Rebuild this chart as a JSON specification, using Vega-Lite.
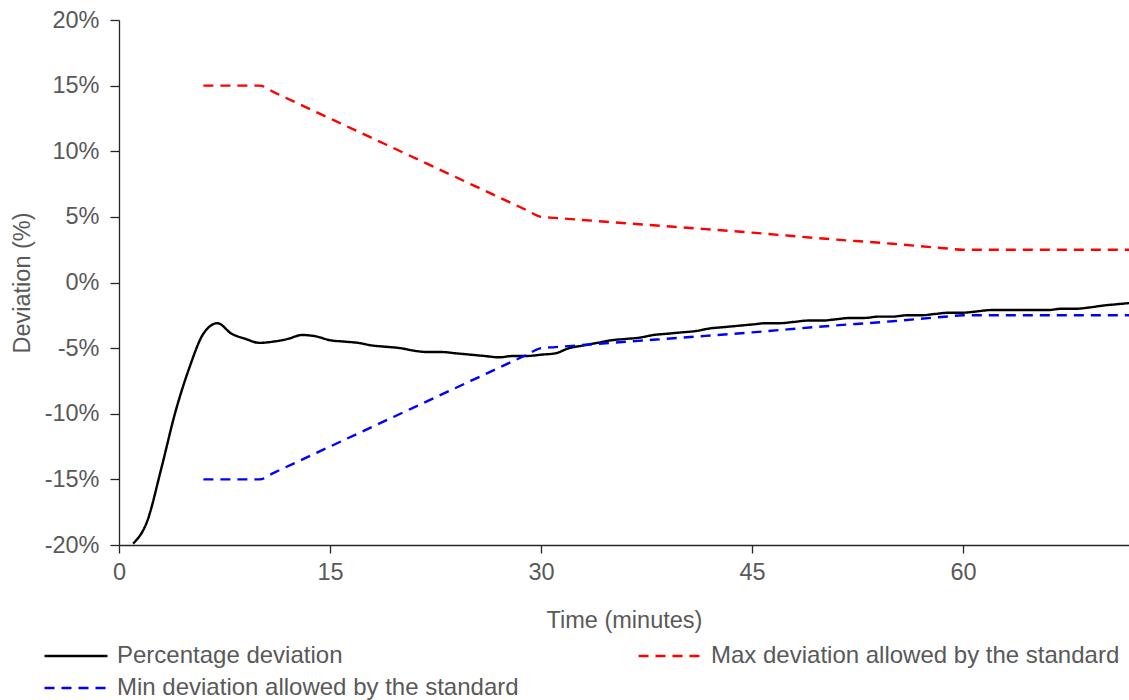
{
  "$schema": "https://vega.github.io/schema/vega-lite/v6.json",
  "width": 1010,
  "height": 525,
  "autosize": {"type": "none"},
  "padding": {"left": 119, "top": 20, "right": 0, "bottom": 155},
  "background": "white",
  "config": {
    "view": {"stroke": null},
    "font": "Liberation Sans",
    "axis": {
      "grid": false,
      "domainColor": "#262626",
      "tickColor": "#262626",
      "domainWidth": 1.3,
      "tickWidth": 1.3,
      "labelColor": "#595959",
      "titleColor": "#595959",
      "labelFont": "Liberation Sans",
      "titleFont": "Liberation Sans",
      "labelFontSize": 23.5,
      "titleFontSize": 23.5,
      "titleFontWeight": "normal"
    },
    "legend": {
      "labelFont": "Liberation Sans",
      "labelFontSize": 24,
      "labelColor": "#595959"
    }
  },
  "data": {
    "values": [
      {"t": 1, "v": -19.9, "s": "Percentage deviation"},
      {"t": 2, "v": -18.2, "s": "Percentage deviation"},
      {"t": 3, "v": -14.2, "s": "Percentage deviation"},
      {"t": 4, "v": -9.9, "s": "Percentage deviation"},
      {"t": 5, "v": -6.5, "s": "Percentage deviation"},
      {"t": 6, "v": -3.9, "s": "Percentage deviation"},
      {"t": 7, "v": -3.1, "s": "Percentage deviation"},
      {"t": 8, "v": -3.9, "s": "Percentage deviation"},
      {"t": 9, "v": -4.3, "s": "Percentage deviation"},
      {"t": 10, "v": -4.6, "s": "Percentage deviation"},
      {"t": 11, "v": -4.5, "s": "Percentage deviation"},
      {"t": 12, "v": -4.3, "s": "Percentage deviation"},
      {"t": 13, "v": -4.0, "s": "Percentage deviation"},
      {"t": 14, "v": -4.1, "s": "Percentage deviation"},
      {"t": 15, "v": -4.4, "s": "Percentage deviation"},
      {"t": 16, "v": -4.5, "s": "Percentage deviation"},
      {"t": 17, "v": -4.6, "s": "Percentage deviation"},
      {"t": 18, "v": -4.8, "s": "Percentage deviation"},
      {"t": 19, "v": -4.9, "s": "Percentage deviation"},
      {"t": 20, "v": -5.0, "s": "Percentage deviation"},
      {"t": 21, "v": -5.2, "s": "Percentage deviation"},
      {"t": 22, "v": -5.3, "s": "Percentage deviation"},
      {"t": 23, "v": -5.3, "s": "Percentage deviation"},
      {"t": 24, "v": -5.4, "s": "Percentage deviation"},
      {"t": 25, "v": -5.5, "s": "Percentage deviation"},
      {"t": 26, "v": -5.6, "s": "Percentage deviation"},
      {"t": 27, "v": -5.7, "s": "Percentage deviation"},
      {"t": 28, "v": -5.6, "s": "Percentage deviation"},
      {"t": 29, "v": -5.6, "s": "Percentage deviation"},
      {"t": 30, "v": -5.5, "s": "Percentage deviation"},
      {"t": 31, "v": -5.4, "s": "Percentage deviation"},
      {"t": 32, "v": -5.0, "s": "Percentage deviation"},
      {"t": 33, "v": -4.8, "s": "Percentage deviation"},
      {"t": 34, "v": -4.6, "s": "Percentage deviation"},
      {"t": 35, "v": -4.4, "s": "Percentage deviation"},
      {"t": 36, "v": -4.3, "s": "Percentage deviation"},
      {"t": 37, "v": -4.2, "s": "Percentage deviation"},
      {"t": 38, "v": -4.0, "s": "Percentage deviation"},
      {"t": 39, "v": -3.9, "s": "Percentage deviation"},
      {"t": 40, "v": -3.8, "s": "Percentage deviation"},
      {"t": 41, "v": -3.7, "s": "Percentage deviation"},
      {"t": 42, "v": -3.5, "s": "Percentage deviation"},
      {"t": 43, "v": -3.4, "s": "Percentage deviation"},
      {"t": 44, "v": -3.3, "s": "Percentage deviation"},
      {"t": 45, "v": -3.2, "s": "Percentage deviation"},
      {"t": 46, "v": -3.1, "s": "Percentage deviation"},
      {"t": 47, "v": -3.1, "s": "Percentage deviation"},
      {"t": 48, "v": -3.0, "s": "Percentage deviation"},
      {"t": 49, "v": -2.9, "s": "Percentage deviation"},
      {"t": 50, "v": -2.9, "s": "Percentage deviation"},
      {"t": 51, "v": -2.8, "s": "Percentage deviation"},
      {"t": 52, "v": -2.7, "s": "Percentage deviation"},
      {"t": 53, "v": -2.7, "s": "Percentage deviation"},
      {"t": 54, "v": -2.6, "s": "Percentage deviation"},
      {"t": 55, "v": -2.6, "s": "Percentage deviation"},
      {"t": 56, "v": -2.5, "s": "Percentage deviation"},
      {"t": 57, "v": -2.5, "s": "Percentage deviation"},
      {"t": 58, "v": -2.4, "s": "Percentage deviation"},
      {"t": 59, "v": -2.3, "s": "Percentage deviation"},
      {"t": 60, "v": -2.3, "s": "Percentage deviation"},
      {"t": 61, "v": -2.2, "s": "Percentage deviation"},
      {"t": 62, "v": -2.1, "s": "Percentage deviation"},
      {"t": 63, "v": -2.1, "s": "Percentage deviation"},
      {"t": 64, "v": -2.1, "s": "Percentage deviation"},
      {"t": 65, "v": -2.1, "s": "Percentage deviation"},
      {"t": 66, "v": -2.1, "s": "Percentage deviation"},
      {"t": 67, "v": -2.0, "s": "Percentage deviation"},
      {"t": 68, "v": -2.0, "s": "Percentage deviation"},
      {"t": 69, "v": -1.9, "s": "Percentage deviation"},
      {"t": 70, "v": -1.75, "s": "Percentage deviation"},
      {"t": 71, "v": -1.65, "s": "Percentage deviation"},
      {"t": 72, "v": -1.55, "s": "Percentage deviation"},
      {"t": 6, "v": 15, "s": "Max deviation allowed by the standard"},
      {"t": 9, "v": 15, "s": "Max deviation allowed by the standard"},
      {"t": 10, "v": 15, "s": "Max deviation allowed by the standard"},
      {"t": 11, "v": 14.5, "s": "Max deviation allowed by the standard"},
      {"t": 15, "v": 12.5, "s": "Max deviation allowed by the standard"},
      {"t": 20, "v": 10, "s": "Max deviation allowed by the standard"},
      {"t": 25, "v": 7.5, "s": "Max deviation allowed by the standard"},
      {"t": 29, "v": 5.5, "s": "Max deviation allowed by the standard"},
      {"t": 30, "v": 5, "s": "Max deviation allowed by the standard"},
      {"t": 31, "v": 4.92, "s": "Max deviation allowed by the standard"},
      {"t": 35, "v": 4.6, "s": "Max deviation allowed by the standard"},
      {"t": 40, "v": 4.2, "s": "Max deviation allowed by the standard"},
      {"t": 45, "v": 3.8, "s": "Max deviation allowed by the standard"},
      {"t": 50, "v": 3.35, "s": "Max deviation allowed by the standard"},
      {"t": 55, "v": 2.95, "s": "Max deviation allowed by the standard"},
      {"t": 59, "v": 2.58, "s": "Max deviation allowed by the standard"},
      {"t": 60, "v": 2.5, "s": "Max deviation allowed by the standard"},
      {"t": 61, "v": 2.5, "s": "Max deviation allowed by the standard"},
      {"t": 65, "v": 2.5, "s": "Max deviation allowed by the standard"},
      {"t": 72, "v": 2.5, "s": "Max deviation allowed by the standard"},
      {"t": 6, "v": -15, "s": "Min deviation allowed by the standard"},
      {"t": 9, "v": -15, "s": "Min deviation allowed by the standard"},
      {"t": 10, "v": -15, "s": "Min deviation allowed by the standard"},
      {"t": 11, "v": -14.5, "s": "Min deviation allowed by the standard"},
      {"t": 15, "v": -12.5, "s": "Min deviation allowed by the standard"},
      {"t": 20, "v": -10, "s": "Min deviation allowed by the standard"},
      {"t": 25, "v": -7.5, "s": "Min deviation allowed by the standard"},
      {"t": 29, "v": -5.5, "s": "Min deviation allowed by the standard"},
      {"t": 30, "v": -5, "s": "Min deviation allowed by the standard"},
      {"t": 31, "v": -4.92, "s": "Min deviation allowed by the standard"},
      {"t": 35, "v": -4.6, "s": "Min deviation allowed by the standard"},
      {"t": 40, "v": -4.2, "s": "Min deviation allowed by the standard"},
      {"t": 45, "v": -3.8, "s": "Min deviation allowed by the standard"},
      {"t": 50, "v": -3.35, "s": "Min deviation allowed by the standard"},
      {"t": 55, "v": -2.95, "s": "Min deviation allowed by the standard"},
      {"t": 59, "v": -2.58, "s": "Min deviation allowed by the standard"},
      {"t": 60, "v": -2.5, "s": "Min deviation allowed by the standard"},
      {"t": 61, "v": -2.5, "s": "Min deviation allowed by the standard"},
      {"t": 65, "v": -2.5, "s": "Min deviation allowed by the standard"},
      {"t": 72, "v": -2.5, "s": "Min deviation allowed by the standard"}
    ]
  },
  "mark": {"type": "line", "interpolate": "monotone", "strokeWidth": 2.4, "clip": true},
  "encoding": {
    "x": {
      "field": "t",
      "type": "quantitative",
      "scale": {"domain": [0, 71.8], "nice": false, "zero": false},
      "axis": {
        "title": "Time (minutes)",
        "values": [0, 15, 30, 45, 60],
        "tickSize": 8,
        "labelPadding": 7,
        "titlePadding": 25,
        "labelFlush": false
      }
    },
    "y": {
      "field": "v",
      "type": "quantitative",
      "scale": {"domain": [-20, 20], "nice": false},
      "axis": {
        "title": "Deviation (%)",
        "values": [-20, -15, -10, -5, 0, 5, 10, 15, 20],
        "labelExpr": "datum.value + '%'",
        "tickSize": 9,
        "labelPadding": 11,
        "titlePadding": 10
      }
    },
    "color": {
      "field": "s",
      "type": "nominal",
      "title": null,
      "scale": {
        "domain": ["Percentage deviation", "Max deviation allowed by the standard", "Min deviation allowed by the standard"],
        "range": ["#000000", "#FF0000", "#0000FF"]
      },
      "legend": {
        "orient": "none",
        "legendX": -55,
        "legendY": 624,
        "direction": "horizontal",
        "columns": 2,
        "columnPadding": 114,
        "rowPadding": 8,
        "symbolType": "M-3,0L3,0",
        "symbolSize": 441,
        "symbolStrokeWidth": 2.4,
        "labelOffset": 29,
        "labelLimit": 600
      }
    },
    "strokeDash": {
      "field": "s",
      "type": "nominal",
      "title": null,
      "scale": {
        "domain": ["Percentage deviation", "Max deviation allowed by the standard", "Min deviation allowed by the standard"],
        "range": [[1, 0], [10, 7], [10, 7]]
      }
    }
  }
}
